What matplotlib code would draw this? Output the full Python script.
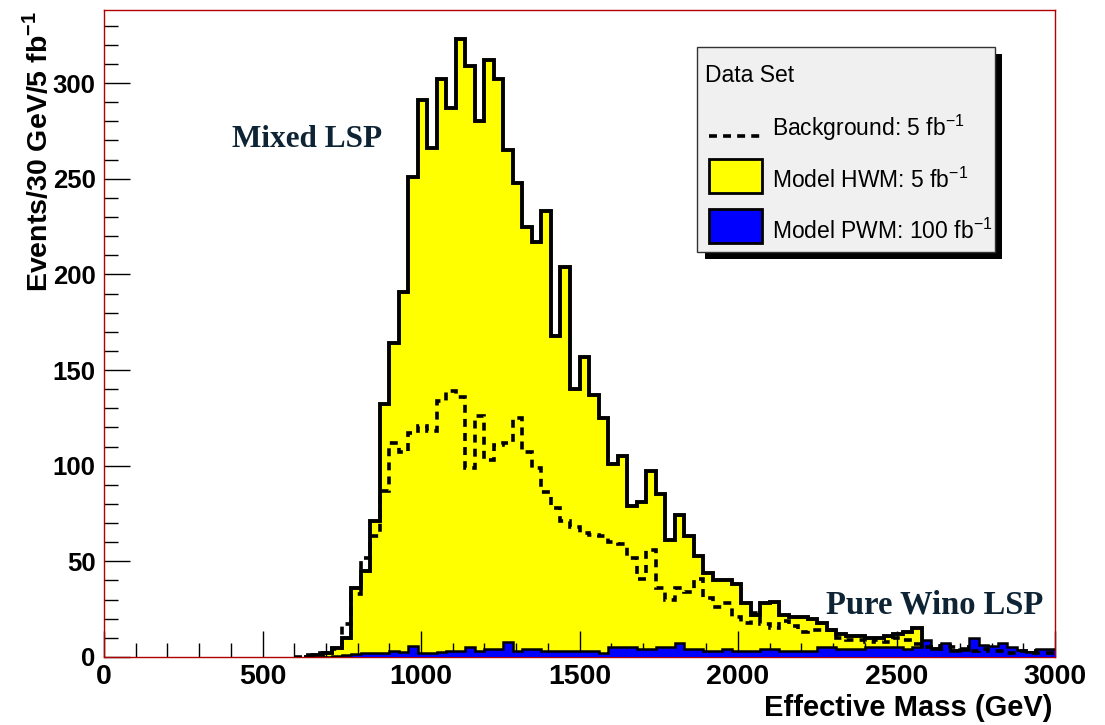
import matplotlib
matplotlib.use("Agg")
import matplotlib.pyplot as plt
import numpy as np
from matplotlib.patches import Rectangle
from matplotlib.lines import Line2D
from matplotlib.ticker import MultipleLocator

plt.rcParams['font.family'] = ['Liberation Sans', 'DejaVu Sans']

# ---------------- data (events per 30 GeV bin, 0-3000 GeV) ----------------
bin_width = 30
n_bins = 100

hwm_5fb = [0]*22 + [
    1, 2, 4.5, 10, 36, 45, 71, 132, 164, 191,            # 22-31
    251, 291, 266, 302, 287, 323, 309, 280, 312, 302,    # 32-41
    265, 248, 225, 217, 233, 168, 204, 140, 157, 137,    # 42-51
    125, 101, 105, 79, 81, 97, 85, 61, 74, 63,           # 52-61
    53, 44, 40, 40, 38, 28, 22, 28, 29, 22,              # 62-71
    21, 21, 20, 18, 14, 12, 11, 11, 10, 10,              # 72-81
    11, 12, 13, 15, 5, 4, 6, 3, 3, 5,                    # 82-91
    4, 3, 4, 3, 2, 2, 3, 2]                              # 92-99

background_5fb = [0]*21 + [
    1, 2, 2, 4, 17, 33, 52, 63, 87, 112,                 # 21-30
    107, 117, 121, 118, 134, 139, 136, 99, 126, 103,     # 31-40
    111, 112, 125, 107, 99, 86, 78, 71, 68, 65,          # 41-50
    64, 63, 60, 59, 52, 41, 56, 36, 30, 36,              # 51-60
    34, 41, 31, 26, 28, 21, 18, 23, 17, 15,              # 61-70
    19, 16, 13, 14, 14, 14, 10, 9, 9, 8,                 # 71-80
    9, 8, 10, 9, 7, 5, 6, 4, 5, 4,                       # 81-90
    3, 4, 3, 3, 2, 3, 2, 2, 2]                           # 91-99

pwm_100fb = [0]*24 + [
    0.5, 1, 1.5, 2, 2, 2, 3, 2.5, 6, 2,                  # 24-33
    2, 2.5, 3, 3, 5, 3, 4, 4, 8, 3,                      # 34-43
    4, 4, 3, 3, 3, 3, 3, 3, 2, 5,                        # 44-53
    5, 5, 4, 4, 5, 5, 7.5, 4, 4, 3,                      # 54-63
    3, 4, 3, 3, 3, 4, 4, 3, 3, 3,                        # 64-73
    3, 5, 5, 4, 4, 4, 5, 5, 5, 5,                        # 74-83
    4, 5, 9, 4, 7.5, 3, 3.5, 10, 6.3, 5.7,               # 84-93
    7.5, 5, 3.7, 2.8, 4, 4]                              # 94-99

x_ticks_major = 500
x_ticks_minor = 100
y_ticks_major = 50
y_ticks_minor = 10

edges = np.arange(n_bins + 1) * bin_width

# ---------------- figure ----------------
W, H = 1105, 725
fig = plt.figure(figsize=(W/100, H/100), dpi=100)

def fx(x):
    return x / W

def fy(y):
    return 1 - y / H

ax_l, ax_r, ax_t, ax_b = 104, 1055, 10, 657
ax = fig.add_axes([fx(ax_l), fy(ax_b), (ax_r-ax_l)/W, (ax_b-ax_t)/H])
ax.set_xlim(0, 3000)
ax.set_ylim(0, 338.2)

def outline(values, lw, ls='-', z=2):
    v = np.asarray(values, dtype=float)
    nz = np.nonzero(v)[0]
    i0 = max(nz[0] - 1, 0)
    ax.stairs(v[i0:], edges[i0:], color='black', lw=lw, linestyle=ls,
              baseline=None, zorder=z)

ax.stairs(hwm_5fb, edges, fill=True, color='#ffff00', lw=0, zorder=1)
outline(hwm_5fb, 2.8, z=2)
ax.stairs(pwm_100fb, edges, fill=True, color='#0000ff', lw=0, zorder=3)
outline(pwm_100fb, 1.8, z=4)
outline(background_5fb, 2.6, ls=(0, (2.2, 1.7)), z=5)

for s in ax.spines.values():
    s.set_color('#b00000')
    s.set_linewidth(1.0)

ax.xaxis.set_major_locator(MultipleLocator(x_ticks_major))
ax.xaxis.set_minor_locator(MultipleLocator(x_ticks_minor))
ax.yaxis.set_major_locator(MultipleLocator(y_ticks_major))
ax.yaxis.set_minor_locator(MultipleLocator(y_ticks_minor))
ax.tick_params(which='both', direction='in', top=False, right=False,
               color='black', width=1.0, zorder=6)
ax.tick_params(which='major', length=19)
ax.tick_params(which='minor', length=10)
ax.tick_params(axis='x', which='major', pad=5, labelsize=20.5)
ax.tick_params(axis='y', which='major', pad=6, labelsize=18.5)
for lab in ax.get_xticklabels() + ax.get_yticklabels():
    lab.set_fontweight('bold')

# axis titles
fig.text(fx(1053), fy(722), 'Effective Mass (GeV)', ha='right', va='bottom',
         fontsize=21, fontweight='bold')
fig.text(fx(38), fy(11), r'Events/30 GeV/5 fb$^{\mathregular{-1}}$', rotation=90,
         ha='center', va='top', fontsize=20.5, fontweight='bold')

# annotations
ax.text(404, 266.5, 'Mixed LSP', fontsize=22.5, fontweight='bold',
        family=['Liberation Serif', 'DejaVu Serif'], color='#0e2434',
        ha='left', va='baseline', zorder=7)
ax.text(2278, 22.5, 'Pure Wino LSP', fontsize=23.5, fontweight='bold',
        family=['Liberation Serif', 'DejaVu Serif'], color='#0e2434',
        ha='left', va='baseline', zorder=7)

# ---------------- legend (ROOT-style box) ----------------
def rect_px(x0, y0, x1, y1, **kw):
    r = Rectangle((fx(x0), fy(y1)), (x1-x0)/W, (y1-y0)/H,
                  transform=fig.transFigure, **kw)
    fig.add_artist(r)
    return r

rect_px(705, 54, 1002, 259, facecolor='black', edgecolor='none', zorder=10)
rect_px(697, 47, 995, 252, facecolor='#f0f0f0', edgecolor='#333333', lw=1.0, zorder=11)

fs_leg = 16.5
fig.text(fx(705), fy(76), 'Data Set', ha='left', va='center', fontsize=fs_leg, zorder=12)

fig.add_artist(Line2D([fx(709), fx(762)], [fy(136), fy(136)], transform=fig.transFigure,
                      color='black', lw=2.6, linestyle=(0, (2.2, 1.7)), zorder=12))
fig.text(fx(772), fy(128), r'Background: 5 fb$^{\mathregular{-1}}$', ha='left', va='center',
         fontsize=fs_leg, zorder=12)

rect_px(709, 159, 762, 193, facecolor='#ffff00', edgecolor='black', lw=2.0, zorder=12)
fig.text(fx(772), fy(180), r'Model HWM: 5 fb$^{\mathregular{-1}}$', ha='left', va='center',
         fontsize=fs_leg, zorder=12)

rect_px(709, 209, 762, 243, facecolor='#0000ff', edgecolor='black', lw=2.0, zorder=12)
fig.text(fx(772), fy(231), r'Model PWM: 100 fb$^{\mathregular{-1}}$', ha='left', va='center',
         fontsize=fs_leg, zorder=12)

fig.savefig('out.png', dpi=100, facecolor='white')
